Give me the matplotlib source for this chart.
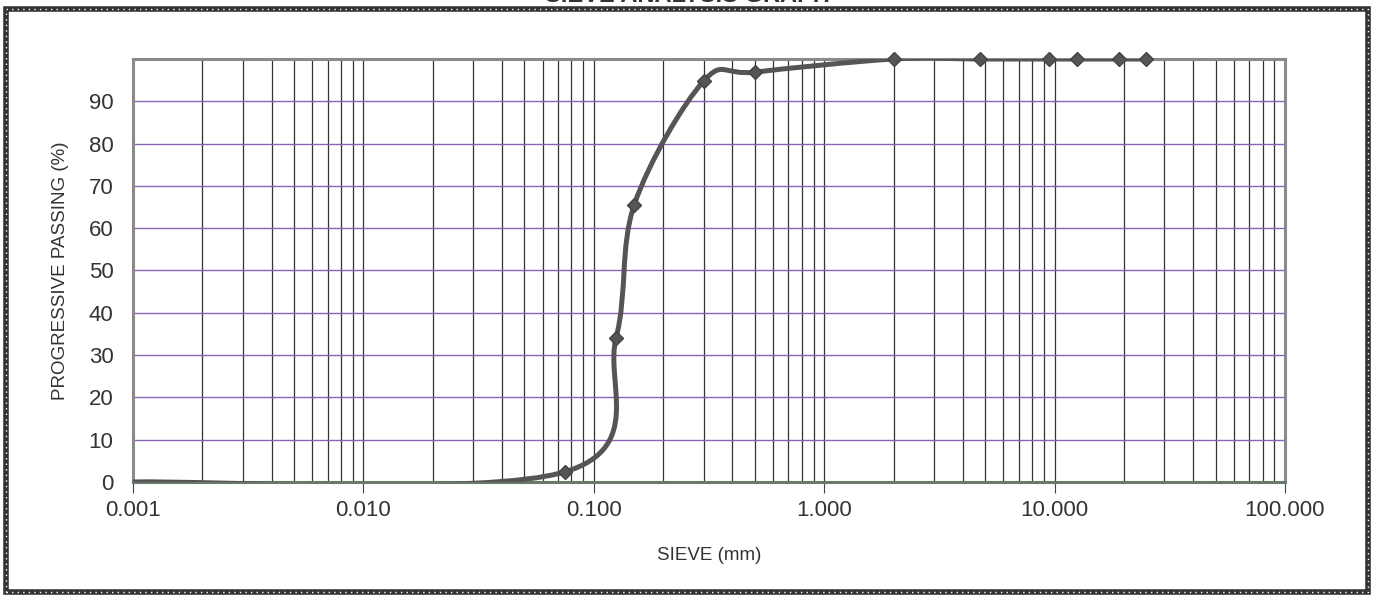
import numpy as np
import matplotlib
matplotlib.use("Agg")
import matplotlib.pyplot as plt
from matplotlib.path import Path
from matplotlib.patches import PathPatch, Rectangle

plt.rcParams['font.family'] = ['Liberation Sans', 'DejaVu Sans']

# sieve sizes (mm) and percent passing
sieve = [0.001, 0.075, 0.125, 0.15, 0.3, 0.5, 2.0, 4.75, 9.5, 12.5, 19.0, 25.0]
passing = [0.0, 2.4, 34.1, 65.6, 94.8, 96.9, 100.0, 100.0, 100.0, 100.0, 100.0, 100.0]
xtick_vals = [0.001, 0.01, 0.1, 1, 10, 100]
xtick_labels = ['0.001', '0.010', '0.100', '1.000', '10.000', '100.000']
ytick_vals = [0, 10, 20, 30, 40, 50, 60, 70, 80, 90]

line_col = '#555555'

fig = plt.figure(figsize=(13.75, 5.96), dpi=100)
ax = fig.add_axes([0.0967, 0.1913, 0.8378, 0.7097])
ax.set_xscale('log')
ax.set_xlim(0.001, 100)
ax.set_ylim(0, 100)

# vertical grid at every decade sub-division
for d in range(-3, 2):
    for m in range(1, 10):
        v = m * 10.0 ** d
        if v > 0.001:
            ax.axvline(v, color='#333333', lw=0.9, zorder=1)
for y in ytick_vals[1:]:
    ax.axhline(y, color='#8a62b8', lw=1.0, zorder=1)

# smoothed line (Excel-style bezier through the points, in log-x space)
lx = np.log10(sieve)
py = np.array(passing)
pts = np.column_stack([lx, py])
verts = [tuple(pts[0])]
codes = [Path.MOVETO]
n = len(pts)
for i in range(n - 1):
    p0 = pts[i - 1] if i > 0 else pts[i]
    p1 = pts[i]
    p2 = pts[i + 1]
    p3 = pts[i + 2] if i + 2 < n else pts[i + 1]
    c1 = p1 + (p2 - p0) / 6.0
    c2 = p2 - (p3 - p1) / 6.0
    verts += [tuple(c1), tuple(c2), tuple(p2)]
    codes += [Path.CURVE4] * 3
verts = [(10 ** vx, vy) for vx, vy in verts]
patch = PathPatch(Path(verts, codes), facecolor='none', edgecolor=line_col, lw=3.6,
                  capstyle='round', joinstyle='round', zorder=3)
ax.add_patch(patch)
ax.plot(sieve[1:], passing[1:], linestyle='none', marker='D', markersize=7,
        color=line_col, markeredgecolor='#444444', zorder=4, clip_on=False)

ax.set_xticks(xtick_vals)
ax.set_xticklabels(xtick_labels)
ax.xaxis.set_minor_locator(matplotlib.ticker.NullLocator())
ax.set_yticks(ytick_vals)
ax.tick_params(axis='x', which='major', length=8, width=0.8, color='#444444',
               labelsize=16, labelcolor='#333333', pad=5)
ax.tick_params(axis='y', length=0, labelsize=16, labelcolor='#333333', pad=14)

for s in ax.spines.values():
    s.set_color('#8a8a8a')
    s.set_linewidth(2.2)
ax.spines['bottom'].set_color('#6a7a6a')

ax.set_xlabel('SIEVE (mm)', fontsize=13.5, color='#333333', labelpad=19)
ax.set_ylabel('PROGRESSIVE PASSING (%)', fontsize=13.5, color='#333333', labelpad=14)

# outer dotted frame
fig.patches.append(Rectangle((0.004, 0.007), 0.991, 0.978, transform=fig.transFigure,
                             fill=False, edgecolor='#333333', lw=4.0))
fig.patches.append(Rectangle((0.004, 0.007), 0.991, 0.978, transform=fig.transFigure,
                             fill=False, edgecolor='white', lw=1.0, linestyle=(0, (1, 3))))

# title cut off at the top of the scan
fig.text(0.50, 1.008, 'SIEVE ANALYSIS GRAPH', ha='center', va='center',
         fontsize=17, color='#333333', fontweight='bold')

fig.savefig('out.png', dpi=100)
